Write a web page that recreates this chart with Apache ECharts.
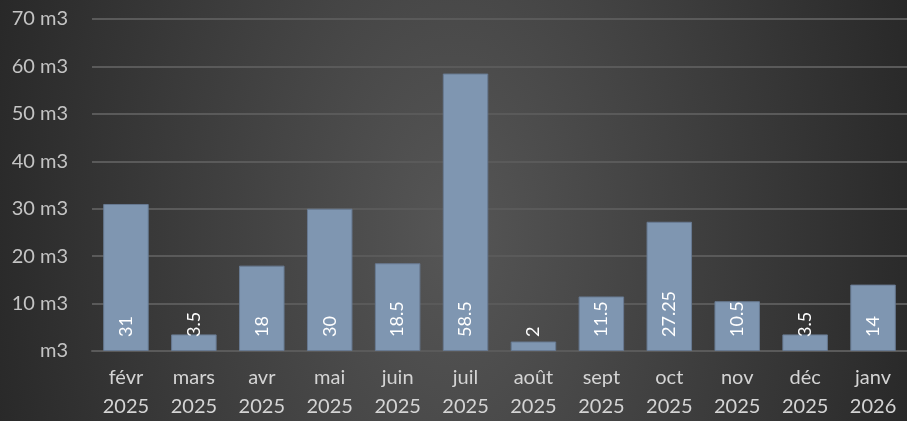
<!DOCTYPE html>
<html>
<head>
<meta charset="utf-8">
<script src="https://cdn.jsdelivr.net/npm/echarts@6/dist/echarts.min.js"></script>
<style>
  html, body { margin: 0; padding: 0; }
  #chart {
    width: 907px;
    height: 421px;
    background: radial-gradient(480px 800px at 50% 55%, #565656 0%, #282828 100%);
  }
</style>
</head>
<body>
<div id="chart"></div>
<script>
// mois (deux lignes : mois / année)
const months = ['févr', 'mars', 'avr', 'mai', 'juin', 'juil', 'août', 'sept', 'oct', 'nov', 'déc', 'janv']
const years = ['2025', '2025', '2025', '2025', '2025', '2025', '2025', '2025', '2025', '2025', '2025', '2026']
// consommation en m3
const volumes = [31, 3.5, 18, 30, 18.5, 58.5, 2, 11.5, 27.25, 10.5, 3.5, 14]
const yTicks = { min: 0, max: 70, step: 10 }

const categories = months.map((m, i) => m + '\n' + years[i])

const chart = echarts.init(document.getElementById('chart'))
const option = {
  animation: false,
  backgroundColor: 'transparent',
  textStyle: { fontFamily: 'Lato, "Open Sans", sans-serif' },
  grid: { left: 92, right: -7, top: 19, bottom: 67 },
  xAxis: {
    type: 'category',
    data: categories,
    axisTick: { show: false },
    axisLine: { lineStyle: { color: '#5a5a5a', width: 2 } },
    axisLabel: {
      color: '#d4d4d4',
      fontSize: 20,
      lineHeight: 29,
      margin: 12,
      interval: 0,
    },
  },
  yAxis: {
    type: 'value',
    min: yTicks.min,
    max: yTicks.max,
    interval: yTicks.step,
    axisLine: { show: false },
    axisTick: { show: false },
    splitLine: { lineStyle: { color: '#5a5a5a', width: 2 } },
    axisLabel: {
      color: '#c4c4c4',
      fontSize: 20,
      margin: 24,
      formatter: (v) => (v === 0 ? 'm3' : v + ' m3'),
    },
  },
  series: [
    {
      type: 'bar',
      data: volumes,
      barWidth: '67%',
      itemStyle: { color: '#7f96b1', borderColor: '#687a92', borderWidth: 1 },
      label: {
        show: true,
        position: 'insideBottom',
        rotate: 90,
        align: 'left',
        verticalAlign: 'middle',
        distance: 14,
        color: '#ffffff',
        fontSize: 18,
      },
    },
  ],
}
chart.setOption(option)
</script>
</body>
</html>
